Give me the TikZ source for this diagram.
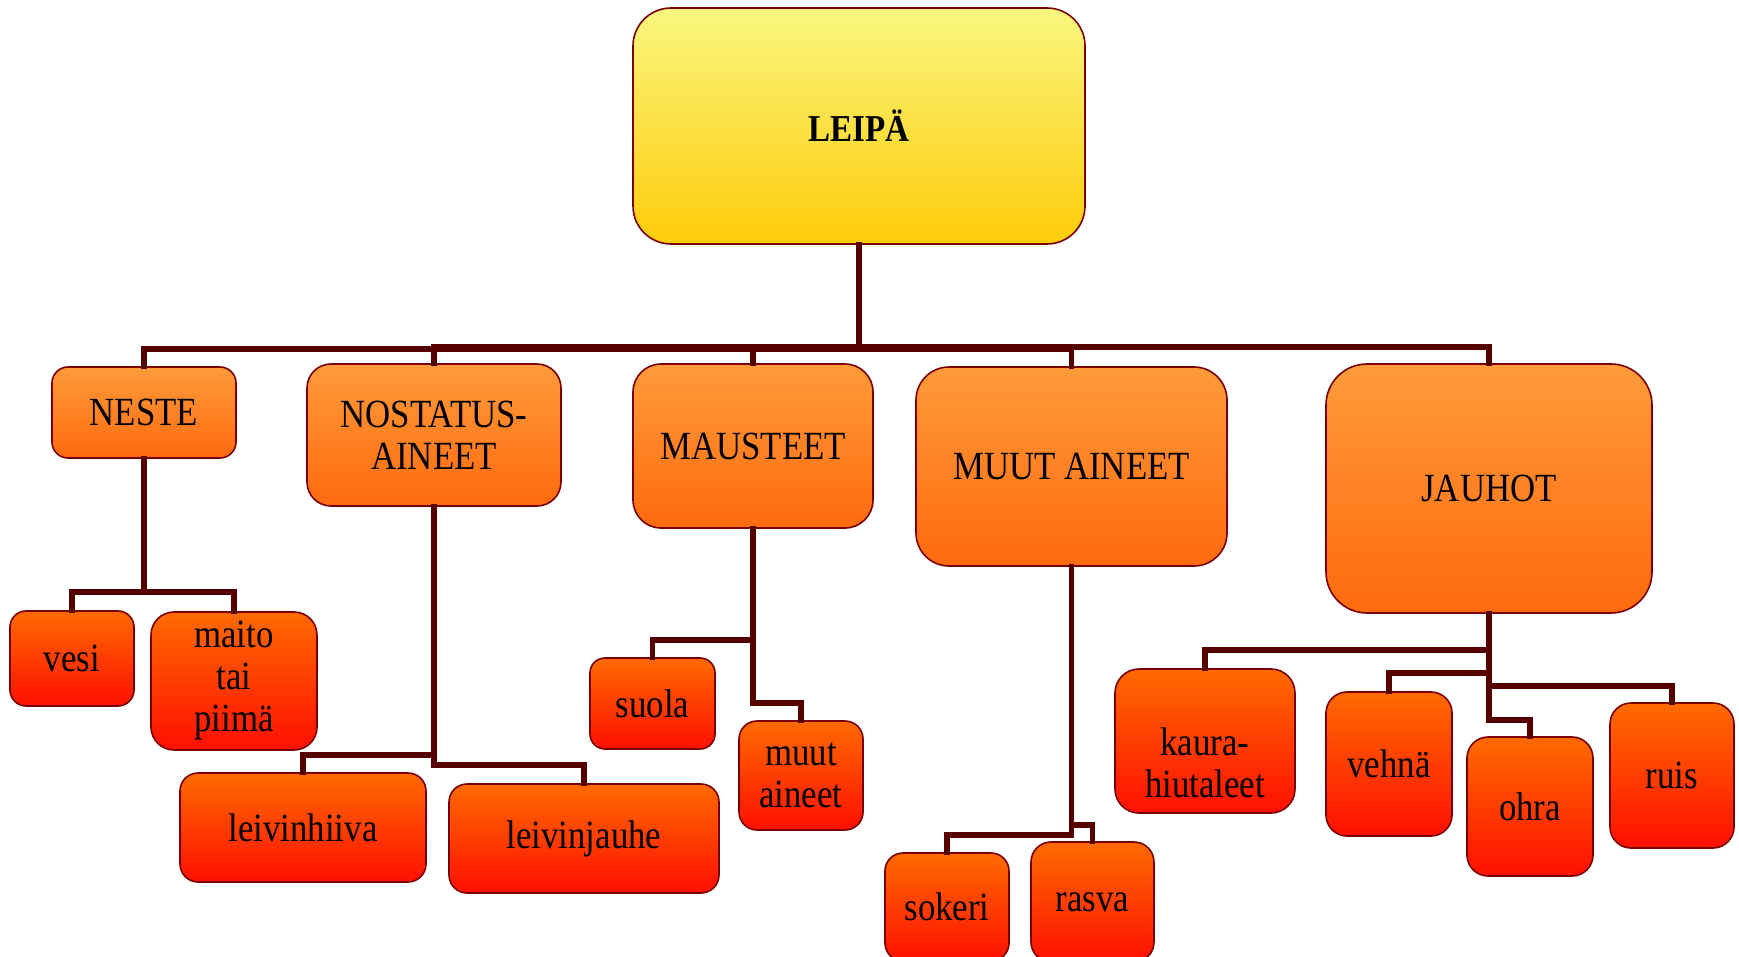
\documentclass[tikz,border=0pt]{standalone}
\usepackage{fontspec}
\setmainfont{Liberation Serif}[FakeStretch=0.87]
\definecolor{conncol}{HTML}{560000}
\definecolor{edgecol}{HTML}{7A0000}
\definecolor{yTop}{HTML}{F9F67F}
\definecolor{yBot}{HTML}{FFCC09}
\definecolor{oTop}{HTML}{FF9B3A}
\definecolor{oBot}{HTML}{FF6A0E}
\definecolor{rTop}{HTML}{FF6A00}
\definecolor{rBot}{HTML}{FF1000}
\begin{document}
\begin{tikzpicture}[x=1pt,y=-1pt,
  box/.style={draw=edgecol, line width=1.6pt, inner sep=0pt, align=center,
    font=\fontsize{40}{42}\selectfont},
  root/.style={box, top color=yTop, bottom color=yBot,
    font=\fontsize{38}{42}\selectfont\bfseries},
  lvl1/.style={box, top color=oTop, bottom color=oBot},
  lvl2/.style={box, top color=rTop, bottom color=rBot},
  conn/.style={draw=conncol, line width=5.8pt, line cap=rect, line join=miter},
  txt/.style={inner sep=0pt, align=center, font=\fontsize{40}{42}\selectfont}
]
\useasboundingbox (0,0) rectangle (1739,957);

% root
\node[root, minimum width=452, minimum height=236, rounded corners=38pt] (leipa) at (859,126) {LEIPÄ};
% level 1
\node[lvl1, minimum width=184, minimum height=91, rounded corners=16pt] (neste) at (144,412.5) {NESTE};
\node[lvl1, minimum width=254, minimum height=142, rounded corners=24pt] (nost) at (434,435) {NOSTATUS-\\AINEET};
\node[lvl1, minimum width=240, minimum height=164, rounded corners=28pt] (maus) at (753,446) {MAUSTEET};
\node[lvl1, minimum width=311, minimum height=199, rounded corners=33pt] (muut) at (1071.5,466.5) {MUUT AINEET};
\node[lvl1, minimum width=326, minimum height=249, rounded corners=41pt] (jauhot) at (1489,488.5) {JAUHOT};
% level 2
\node[lvl2, minimum width=124, minimum height=95, rounded corners=16pt] (vesi) at (72,658.5) {vesi};
\node[lvl2, minimum width=166, minimum height=138, rounded corners=23pt] (maito) at (234,681) {maito\\tai\\piimä};
\node[lvl2, minimum width=246, minimum height=109, rounded corners=18pt] (hiiva) at (303,827.5) {leivinhiiva};
\node[lvl2, minimum width=270, minimum height=109, rounded corners=18pt] (jauhe) at (584,838.5) {leivinjauhe};
\node[lvl2, minimum width=125, minimum height=91, rounded corners=15pt] (suola) at (652.5,703.5) {suola};
\node[lvl2, minimum width=124, minimum height=109, rounded corners=18pt] (muutai) at (801,775.5) {muut\\aineet};
\node[lvl2, minimum width=124, minimum height=108, rounded corners=18pt] (sokeri) at (947,907) {sokeri};
\node[lvl2, minimum width=123, minimum height=120, rounded corners=20pt] (rasva) at (1092.5,902) {rasva};
\node[lvl2, minimum width=180, minimum height=144, rounded corners=24pt] (kaura) at (1205,741) {};
\node[txt] (kauratxt) at ([yshift=-22pt]kaura.center) {kaura-\\hiutaleet};
\node[lvl2, minimum width=126, minimum height=144, rounded corners=21pt] (vehna) at (1389,764) {vehnä};
\node[lvl2, minimum width=126, minimum height=139, rounded corners=21pt] (ohra) at (1530,806.5) {ohra};
\node[lvl2, minimum width=124, minimum height=145, rounded corners=21pt] (ruis) at (1672,775.5) {ruis};

% connectors
\draw[conn] (leipa.south) -- ++(0,104) -| (neste.north);
\draw[conn] (leipa.south) -- ++(0,102) -| (nost.north);
\draw[conn] (leipa.south) -- ++(0,102) -| (maus.north);
\draw[conn] (leipa.south) -- ++(0,104) -| (muut.north);
\draw[conn] (leipa.south) -- ++(0,102) -| (jauhot.north);

\draw[conn] (neste.south) -- ++(0,133) -| (vesi.north);
\draw[conn] (neste.south) -- ++(0,133) -| (maito.north);

\draw[conn] (nost.south) -- ++(0,248) -| (hiiva.north);
\draw[conn] (nost.south) -- ++(0,258) -| (jauhe.north);

\draw[conn] (maus.south) -- ++(0,111) -| (suola.north);
\draw[conn] (maus.south) -- ++(0,174) -| (muutai.north);

\draw[conn] (muut.south) -- ++(0,268) -| (sokeri.north);
\draw[conn] (muut.south) -- ++(0,258) -| (rasva.north);

\draw[conn] (jauhot.south) -- ++(0,36) -| (kaura.north);
\draw[conn] (jauhot.south) -- ++(0,59) -| (vehna.north);
\draw[conn] (jauhot.south) -- ++(0,106) -| (ohra.north);
\draw[conn] (jauhot.south) -- ++(0,72) -| (ruis.north);
\end{tikzpicture}
\end{document}
